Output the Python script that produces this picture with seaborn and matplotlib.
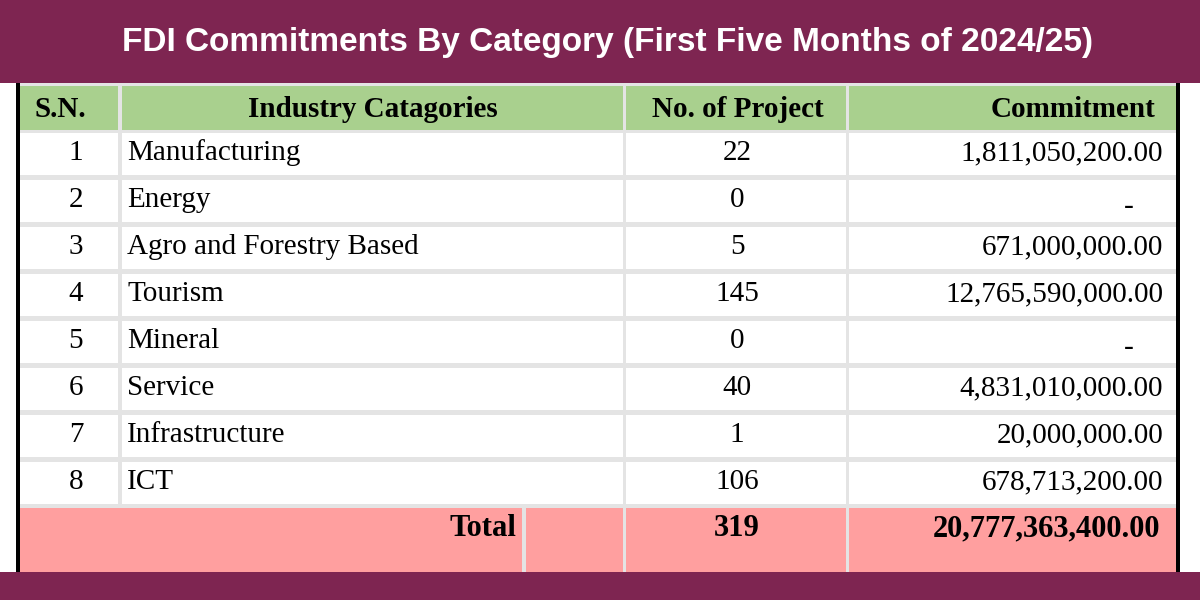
import matplotlib
matplotlib.use("Agg")
import matplotlib.pyplot as plt
from matplotlib.patches import Rectangle
import seaborn as sns

sns.set_theme(style="white")
plt.rcParams['font.family'] = ['Liberation Serif', 'DejaVu Serif']
plt.rcParams['text.color'] = 'black'

# ---- data ----
title = "FDI Commitments By Category (First Five Months of 2024/25)"
headers = ["S.N.", "Industry Catagories", "No. of Project", "Commitment"]
serial = [1, 2, 3, 4, 5, 6, 7, 8]
categories = ["Manufacturing", "Energy", "Agro and Forestry Based", "Tourism",
              "Mineral", "Service", "Infrastructure", "ICT"]
projects = [22, 0, 5, 145, 0, 40, 1, 106]
commitment = [1811050200.00, 0, 671000000.00, 12765590000.00, 0,
              4831010000.00, 20000000.00, 678713200.00]
total_label = "Total"
total_projects = 319
total_commitment = 20777363400.00

# ---- colours ----
MAROON = "#7E2551"
GREEN = "#A9D08E"
PINK = "#FF9F9F"
GRID = "#E4E4E4"

FS = 21

fig = plt.figure(figsize=(12, 6), dpi=100)
ax = fig.add_axes([0, 0, 1, 1])
ax.set_xlim(0, 1200)
ax.set_ylim(600, 0)
ax.axis("off")

# banners
ax.add_patch(Rectangle((0, 0), 1200, 83, color=MAROON, lw=0))
ax.add_patch(Rectangle((0, 572), 1200, 28, color=MAROON, lw=0))
ax.text(607, 43, title, color="white", fontsize=24, fontweight="bold",
        ha="center", va="center", family=["Liberation Sans", "DejaVu Sans"])

# table grid background
ax.add_patch(Rectangle((20, 83), 1156, 489, color=GRID, lw=0))

cols = [(20, 118), (122, 623), (626, 846), (849, 1176)]

# header
for x0, x1 in cols:
    ax.add_patch(Rectangle((x0, 86), x1 - x0, 44, color=GREEN, lw=0))
hb = 117
ax.text(60, hb, headers[0], fontsize=FS, fontweight="bold", ha="center", va="baseline")
ax.text(373, hb, headers[1], fontsize=FS, fontweight="bold", ha="center", va="baseline")
ax.text(738, hb, headers[2], fontsize=FS, fontweight="bold", ha="center", va="baseline")
ax.text(1155, hb, headers[3], fontsize=FS, fontweight="bold", ha="right", va="baseline")

# body rows
for i, (sn, cat, pr, cm) in enumerate(zip(serial, categories, projects, commitment)):
    y0 = 133 + 47 * i
    for x0, x1 in cols:
        ax.add_patch(Rectangle((x0, y0), x1 - x0, 42, color="white", lw=0))
    b = y0 + 27
    ax.text(76, b, str(sn), fontsize=FS, ha="center", va="baseline")
    ax.text(127, b, cat, fontsize=FS, ha="left", va="baseline")
    ax.text(737, b, str(pr), fontsize=FS, ha="center", va="baseline")
    if cm:
        ax.text(1163, b, f"{cm:,.2f}", fontsize=FS, ha="right", va="baseline")
    else:
        ax.text(1129, b + 7, "-", fontsize=FS, ha="center", va="baseline")

# total row
ty0 = 508
for x0, x1 in [(20, 522), (526, 623), (626, 846), (849, 1176)]:
    ax.add_patch(Rectangle((x0, ty0), x1 - x0, 64, color=PINK, lw=0))
tb = ty0 + 28
ax.text(516, tb, total_label, fontsize=22, fontweight="bold", ha="right", va="baseline")
ax.text(737, tb, str(total_projects), fontsize=22, fontweight="bold", ha="center", va="baseline")
ax.text(1160, tb, f"{total_commitment:,.2f}", fontsize=22, fontweight="bold", ha="right", va="baseline")

# black side borders
ax.add_patch(Rectangle((16, 83), 4, 489, color="black", lw=0))
ax.add_patch(Rectangle((1176, 83), 4, 489, color="black", lw=0))

fig.savefig("out.png", dpi=100)
